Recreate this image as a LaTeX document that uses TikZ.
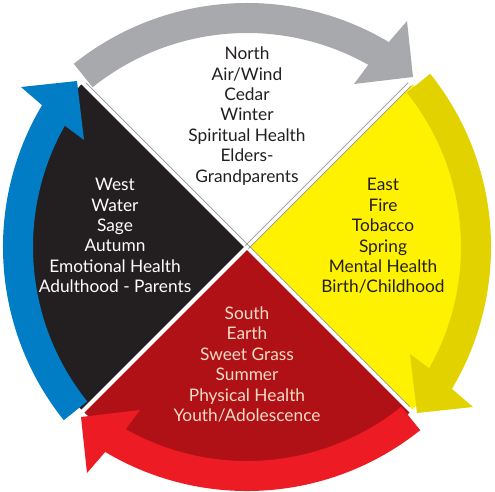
\documentclass[tikz,border=0pt]{standalone}
\usepackage{fontspec}
\setmainfont{Lato}
\definecolor{arrgray}{HTML}{A7A9AC}
\definecolor{quadyellow}{HTML}{FFF200}
\definecolor{arryellow}{HTML}{E1D200}
\definecolor{quadred}{HTML}{AF1117}
\definecolor{arrred}{HTML}{ED1C24}
\definecolor{arrblue}{HTML}{007DC5}
\definecolor{quadblack}{HTML}{231F20}
\definecolor{edgegray}{HTML}{939598}
\definecolor{southtext}{HTML}{F5DCC4}
\newcommand{\ArrowPath}{(-173.2,183.2) arc[start angle=128.7,end angle=59.2,radius=277] -- (160,226) -- (166,170) -- (107,163) -- (121.3,182.2) arc[start angle=60.6,end angle=128.7,radius=247] -- cycle}
\tikzset{
  quadtext/.style={align=center, font=\fontsize{17.3}{20.4}\selectfont, inner sep=0pt},
  gapline/.style={white, line width=4pt},
  edgeline/.style={edgegray, line width=0.6pt}
}
\begin{document}
\begin{tikzpicture}[x=1pt,y=1pt]
\useasboundingbox (-247,-244) rectangle (248,247);
% quadrants
\fill[quadyellow] (0,0) -- (45:232) arc[start angle=45,end angle=-45,radius=232] -- cycle;
\fill[quadred] (0,0) -- (-45:232) arc[start angle=-45,end angle=-135,radius=232] -- cycle;
\fill[quadblack] (0,0) -- (-135:232) arc[start angle=-135,end angle=-225,radius=232] -- cycle;
% gaps
\draw[gapline] (135:238) -- (-45:238);
\draw[gapline] (45:238) -- (-135:238);
\draw[edgeline] (-1.56,1.56) -- ++(45:230);
\draw[edgeline] (1.56,-1.56) -- ++(45:230);
\draw[edgeline] (1.56,1.56) -- ++(135:230);
\draw[edgeline] (1.56,1.56) -- ++(-45:228);
% arrows
\fill[arrgray] \ArrowPath;
\begin{scope}[rotate=-90]\fill[arryellow] \ArrowPath;\end{scope}
\begin{scope}[rotate=-180]\fill[arrred] \ArrowPath;\end{scope}
\begin{scope}[rotate=-270]\fill[arrblue] \ArrowPath;\end{scope}
% texts
\node[quadtext, text=quadblack] (north) at (0,131) {North\\Air/Wind\\Cedar\\Winter\\Spiritual Health\\Elders-\\Grandparents};
\node[quadtext, text=quadblack] (east) at (136,11) {East\\Fire\\Tobacco\\Spring\\Mental Health\\Birth/Childhood};
\node[quadtext, text=white] (west) at (-132,11.5) {West\\Water\\Sage\\Autumn\\Emotional Health\\Adulthood - Parents};
\node[quadtext, text=southtext] (south) at (0,-117.5) {South\\Earth\\Sweet Grass\\Summer\\Physical Health\\Youth/Adolescence};
\end{tikzpicture}
\end{document}
